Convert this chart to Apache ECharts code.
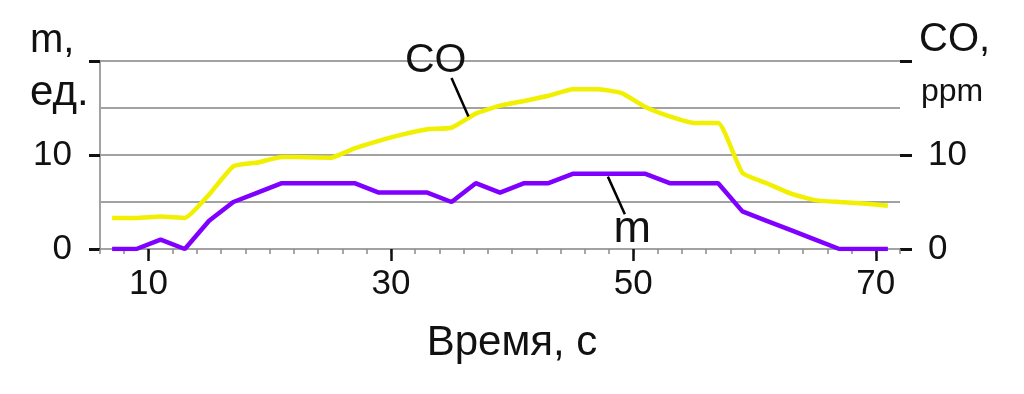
<!DOCTYPE html>
<html>
<head>
<meta charset="utf-8">
<script src="https://cdn.jsdelivr.net/npm/echarts@6/dist/echarts.min.js"></script>
<style>
  html, body { margin: 0; padding: 0; background: #ffffff; }
  #chart { width: 1024px; height: 394px; }
</style>
</head>
<body>
<div id="chart"></div>
<script>
// time, s
const times = [7, 9, 11, 13, 15, 17, 19, 21, 23, 25, 27, 29, 31, 33, 35, 37, 39, 41, 43, 45, 47, 49, 51, 53, 55, 57, 59, 61, 63, 65, 67, 69, 71];
// CO, ppm
const coValues = [3.3, 3.3, 3.45, 3.3, 5.8, 8.8, 9.2, 9.8, 9.75, 9.7, 10.7, 11.5, 12.2, 12.75, 12.9, 14.4, 15.25, 15.75, 16.3, 17.0, 17.0, 16.6, 15.1, 14.1, 13.4, 13.4, 8.1, 7.0, 5.9, 5.2, 5.0, 4.85, 4.6];
// m, units
const mValues = [0, 0, 1, 0, 3, 5, 6, 7, 7, 7, 7, 6, 6, 6, 5, 7, 6, 7, 7, 8, 8, 8, 8, 7, 7, 7, 4, 3, 2, 1, 0, 0, 0];
const xMajorTicks = [10, 30, 50, 70];
const yTicks = [0, 10, 20];
const yLabels = [0, 10];

const FONT = '"Liberation Sans", Arial, Helvetica, sans-serif';
const GRAY = '#a2a2a2';

const coData = times.map((t, i) => [t, coValues[i]]);
const mData = times.map((t, i) => [t, mValues[i]]);

const chart = echarts.init(document.getElementById('chart'));
const option = {
  backgroundColor: '#ffffff',
  animation: false,
  textStyle: { fontFamily: FONT },
  grid: { left: 100, right: 124, top: 61, bottom: 145 },
  xAxis: [
    {
      type: 'value', min: 6, max: 72, interval: 2, position: 'bottom',
      axisLine: { show: true, onZero: false, lineStyle: { color: GRAY, width: 2 } },
      axisTick: { show: true, length: 5, lineStyle: { color: '#8a8a8a', width: 1.5 } },
      axisLabel: { show: false },
      splitLine: { show: false }
    },
    {
      type: 'value', min: 6, max: 72, position: 'bottom',
      axisLine: { show: false },
      axisTick: { show: true, length: 12, customValues: xMajorTicks, lineStyle: { color: '#111', width: 2.5 } },
      axisLabel: { show: true, customValues: xMajorTicks, color: '#111', fontSize: 35, margin: 18, fontFamily: FONT },
      splitLine: { show: false },
      name: 'Время, с', nameLocation: 'middle', nameGap: 73,
      nameTextStyle: { color: '#111', fontSize: 42, fontFamily: FONT, padding: [0, 0, 0, 24] }
    }
  ],
  yAxis: [
    {
      type: 'value', min: 0, max: 20, position: 'left',
      axisLine: { show: true, lineStyle: { color: GRAY, width: 2 } },
      axisTick: { show: true, length: 11, customValues: yTicks, lineStyle: { color: '#111', width: 3 } },
      axisLabel: { show: true, customValues: yLabels, color: '#111', fontSize: 35, margin: 28, fontFamily: FONT },
      splitLine: { show: false }
    },
    {
      type: 'value', min: 0, max: 20, position: 'right',
      axisLine: { show: false },
      axisTick: { show: true, length: 12, customValues: yTicks, lineStyle: { color: '#111', width: 3 } },
      axisLabel: { show: true, customValues: yLabels, color: '#111', fontSize: 35, margin: 28, fontFamily: FONT },
      splitLine: { show: false }
    },
    {
      // grid lines every 5 units
      type: 'value', min: 0, max: 20, interval: 5, position: 'left',
      axisLine: { show: false }, axisTick: { show: false }, axisLabel: { show: false },
      splitLine: { show: true, lineStyle: { color: GRAY, width: 2 } }
    }
  ],
  series: [
    {
      name: 'CO', type: 'line', xAxisIndex: 0, yAxisIndex: 1, data: coData,
      showSymbol: false, smooth: 0.15, z: 3,
      lineStyle: { color: '#f0f000', width: 4.5 },
      markLine: {
        silent: true, symbol: 'none', label: { show: false },
        lineStyle: { color: '#000', width: 2.5, type: 'solid' },
        data: [[{ coord: [35.0, 18.2] }, { coord: [36.4, 14.1] }]]
      }
    },
    {
      name: 'm', type: 'line', xAxisIndex: 0, yAxisIndex: 0, data: mData,
      showSymbol: false, z: 4,
      lineStyle: { color: '#8000ff', width: 4.5 },
      markLine: {
        silent: true, symbol: 'none', label: { show: false },
        lineStyle: { color: '#000', width: 2.5, type: 'solid' },
        data: [[{ coord: [47.9, 7.7] }, { coord: [49.3, 3.7] }]]
      }
    }
  ]
};
chart.setOption(option);

// annotation text anchored in data space
const coPos = chart.convertToPixel({ xAxisIndex: 0, yAxisIndex: 1 }, [33.7, 20.0]);
const mPos = chart.convertToPixel({ xAxisIndex: 0, yAxisIndex: 0 }, [49.9, 2.05]);
chart.setOption({
  graphic: [
    { type: 'text', left: 30, top: 21, style: { text: 'm,', font: '40px ' + FONT, fill: '#111' } },
    { type: 'text', left: 30, top: 72, style: { text: 'ед.', font: '42px ' + FONT, fill: '#111' } },
    { type: 'text', left: 919, top: 20, style: { text: 'CO,', font: '40px ' + FONT, fill: '#111' } },
    { type: 'text', left: 921, top: 76, style: { text: 'ppm', font: '32px ' + FONT, fill: '#111' } },
    { type: 'text', x: coPos[0], y: coPos[1], style: { text: 'CO', font: '41px ' + FONT, fill: '#111', align: 'center', verticalAlign: 'middle' } },
    { type: 'text', x: mPos[0], y: mPos[1], style: { text: 'm', font: '45px ' + FONT, fill: '#111', align: 'center', verticalAlign: 'middle' } }
  ]
});
</script>
</body>
</html>
